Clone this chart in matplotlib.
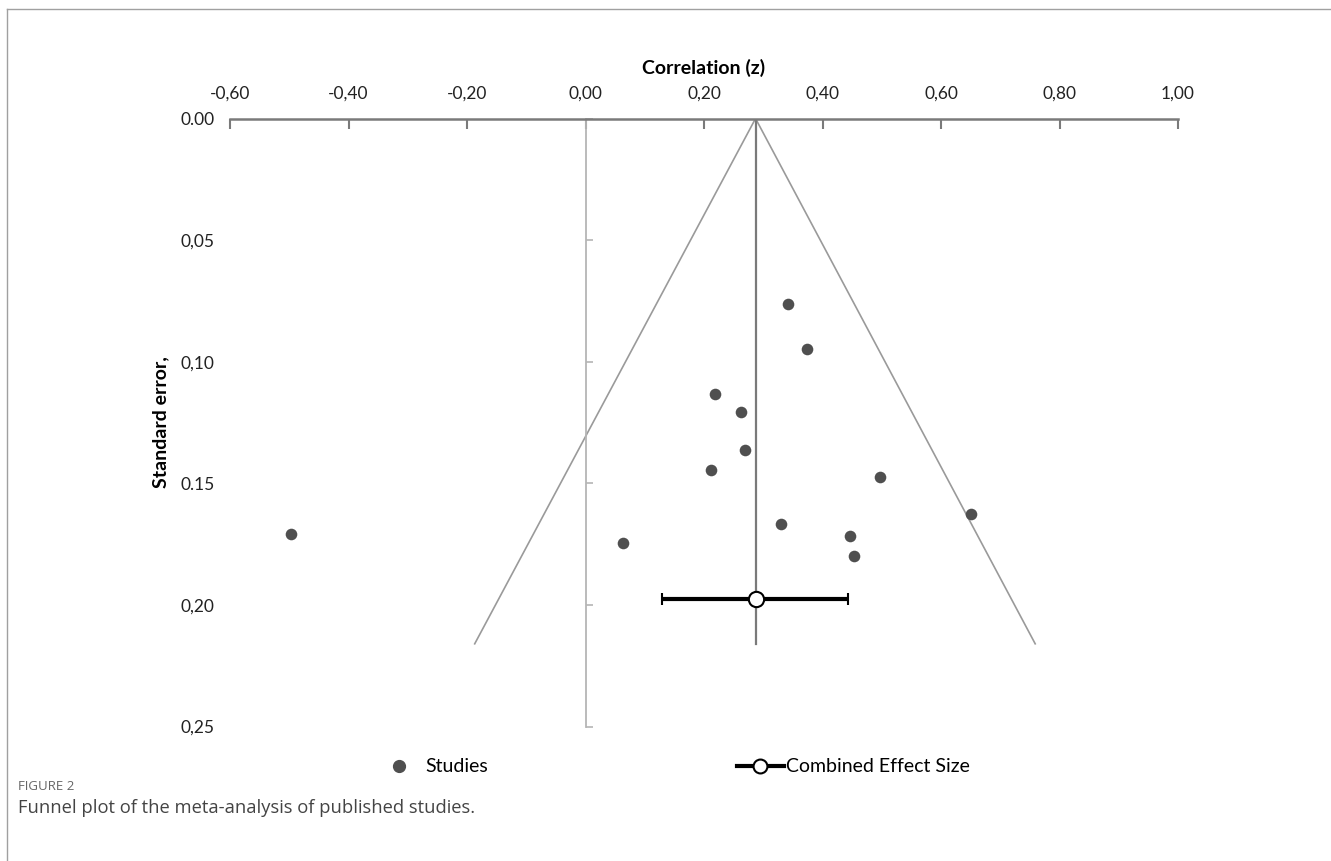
import matplotlib as mpl
mpl.use('Agg')
import matplotlib.pyplot as plt
from matplotlib.lines import Line2D

# study effect sizes (Fisher z) and their standard errors
study_z = [0.342, 0.374, 0.219, 0.262, 0.269, 0.212, 0.497, 0.650, 0.330, 0.447, 0.454, 0.064, -0.497]
study_se = [0.0763, 0.0948, 0.1134, 0.1207, 0.1363, 0.1447, 0.1475, 0.1626, 0.1669, 0.1718, 0.1798, 0.1745, 0.171]

# combined effect
pooled_z = 0.287
pooled_se = 0.1975
pooled_lo = 0.129
pooled_hi = 0.443

# funnel limits at the bottom end
funnel_se = 0.216
funnel_left = -0.187
funnel_right = 0.759

x_ticks = [-0.6, -0.4, -0.2, 0.0, 0.2, 0.4, 0.6, 0.8, 1.0]
x_labels = ['-0,60', '-0,40', '-0,20', '0,00', '0,20', '0,40', '0,60', '0,80', '1,00']
y_ticks = [0.0, 0.05, 0.10, 0.15, 0.20, 0.25]
y_labels = ['0.00', '0,05', '0,10', '0.15', '0,20', '0,25']

plt.rcParams['font.family'] = ['Lato', 'DejaVu Sans']

W, H = 1331, 861
fig = plt.figure(figsize=(W / 100, H / 100), dpi=100)
ax = fig.add_axes([230 / W, 1 - 726.5 / H, (1178 - 230) / W, (726.5 - 118.5) / H])

ax.set_xlim(-0.6, 1.0)
ax.set_ylim(0.25, 0.0)

# funnel and centre line
ax.plot([pooled_z, funnel_left], [0, funnel_se], color='#9a9a9a', lw=1.2, zorder=2)
ax.plot([pooled_z, funnel_right], [0, funnel_se], color='#9a9a9a', lw=1.2, zorder=2)
ax.plot([pooled_z, pooled_z], [0, funnel_se], color='#7a7a7a', lw=1.6, zorder=2)

ax.scatter(study_z, study_se, s=70, color='#4f4f4f', zorder=4, linewidths=0)

ax.errorbar(pooled_z, pooled_se, xerr=[[pooled_z - pooled_lo], [pooled_hi - pooled_z]],
            fmt='o', color='black', ms=11, mfc='white', mec='black', mew=1.5,
            elinewidth=3, capsize=4, capthick=3, zorder=5)

# axes styling: top axis at se=0, vertical axis at z=0
for s in ['right', 'bottom']:
    ax.spines[s].set_visible(False)
ax.spines['top'].set_color('#7a7a7a')
ax.spines['top'].set_linewidth(1.8)
ax.spines['left'].set_position(('data', 0))
ax.spines['left'].set_color('#b5b5b5')
ax.spines['left'].set_linewidth(1.3)

ax.xaxis.tick_top()
ax.set_xticks(x_ticks)
ax.set_xticklabels(x_labels)
ax.tick_params(axis='x', direction='in', length=7, width=1.5, color='#7a7a7a',
               labelsize=12.5, pad=12.5, labelcolor='#222222')
ax.set_yticks(y_ticks)
ax.tick_params(axis='y', direction='in', length=5, width=1.2, color='#b5b5b5', labelleft=False)

sec = ax.secondary_yaxis('left', functions=(lambda v: v, lambda v: v))
sec.set_yticks(y_ticks)
sec.set_yticklabels(y_labels)
sec.spines['left'].set_visible(False)
sec.tick_params(length=0, pad=11, labelsize=12.5, labelcolor='#222222')
sec.set_ylabel('Standard error,', fontsize=14, fontweight='bold', labelpad=8)

ax.set_xlabel('Correlation (z)', fontsize=14, fontweight='bold', labelpad=8)
ax.xaxis.set_label_position('top')

handles = [Line2D([], [], ls='none', marker='o', ms=8.5, color='#4f4f4f'),
           Line2D([], [], color='black', lw=3, marker='o', ms=10, mfc='white', mec='black', mew=1.5)]
fig.legend(handles, ['Studies', 'Combined Effect Size'], loc='center',
           bbox_to_anchor=(673 / W, 1 - 767 / H), ncol=2, frameon=False,
           fontsize=14, handlelength=2.4, handletextpad=0.15, columnspacing=12.8)

# caption and frame lines
fig.text(18 / W, 1 - 786 / H, 'FIGURE 2', fontsize=9.5, color='#666666',
         family=['Open Sans', 'DejaVu Sans'], va='center')
fig.text(18 / W, 1 - 808 / H, 'Funnel plot of the meta-analysis of published studies.',
         fontsize=13.2, color='#444444', family=['Open Sans', 'DejaVu Sans'], va='center')
fig.add_artist(Line2D([7 / W, 7 / W], [0, 1 - 9 / H], transform=fig.transFigure, color='#a0a0a0', lw=1))
fig.add_artist(Line2D([7 / W, 1], [1 - 9 / H, 1 - 9 / H], transform=fig.transFigure, color='#a0a0a0', lw=1))

fig.savefig('out.png', dpi=100)
